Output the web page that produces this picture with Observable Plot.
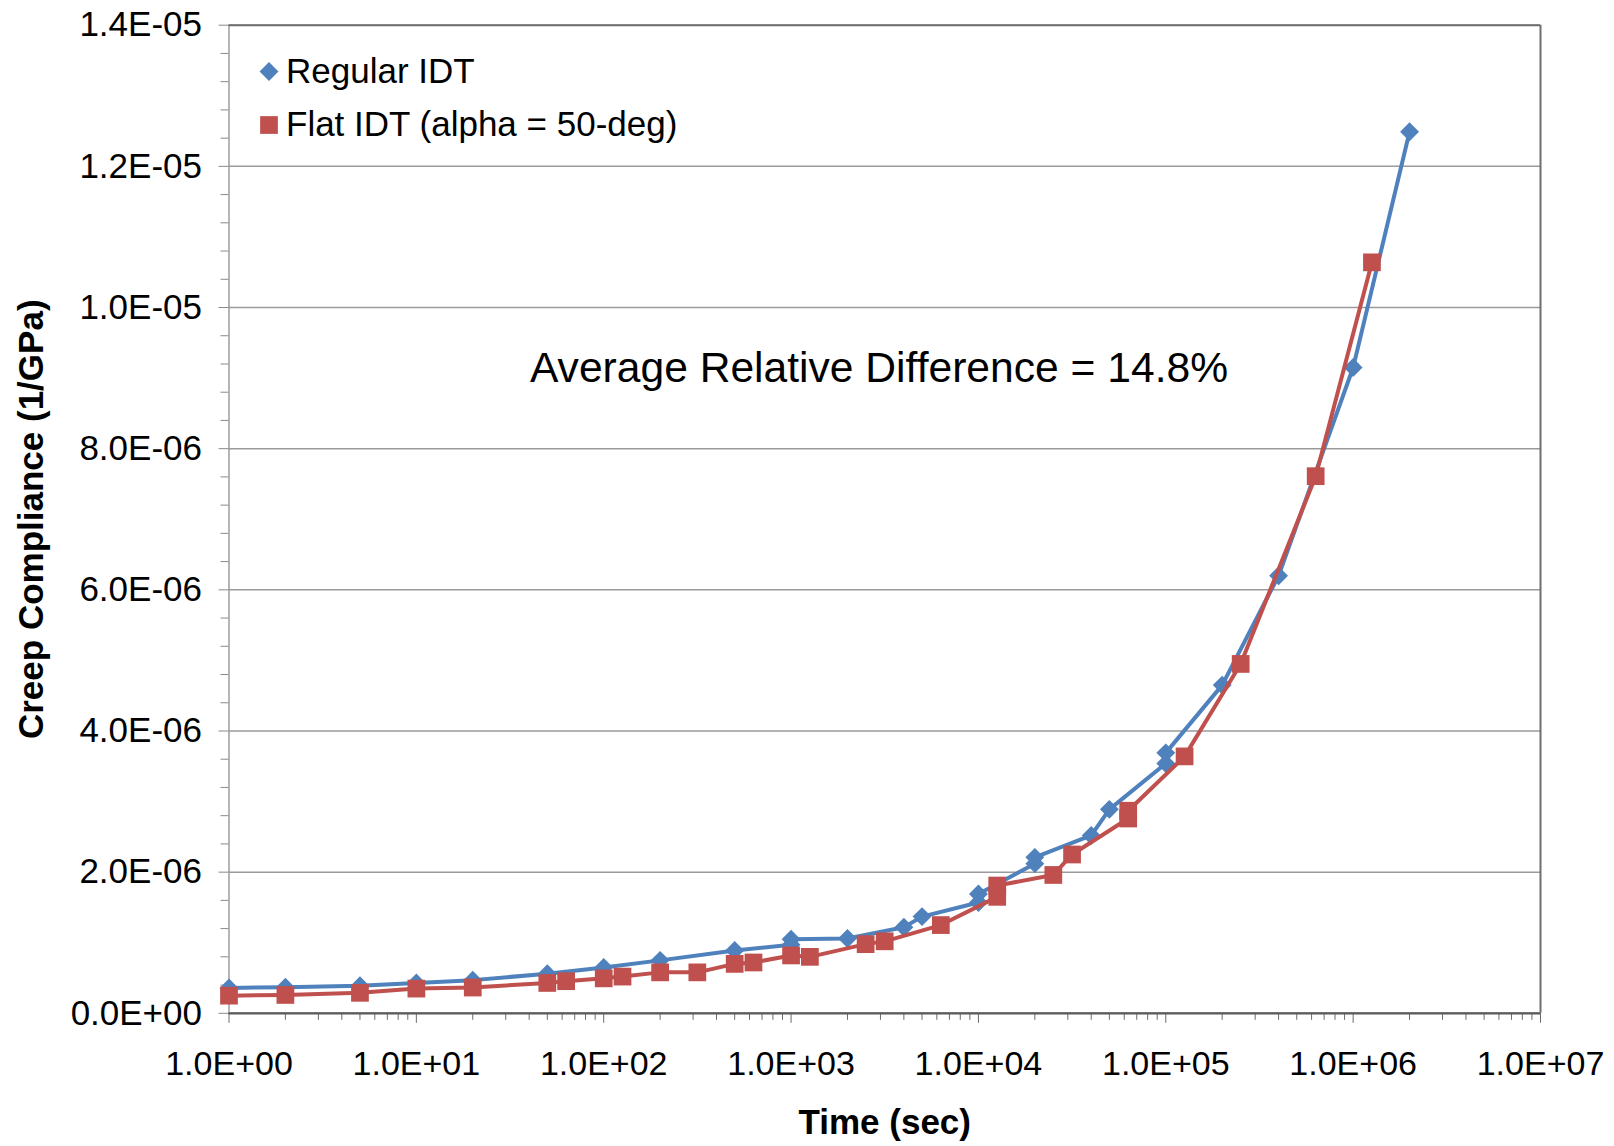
<!DOCTYPE html>
<html>
<head>
<meta charset="utf-8">
<script src="https://cdn.jsdelivr.net/npm/d3@7"></script>
<script src="https://cdn.jsdelivr.net/npm/@observablehq/plot@0.6"></script>
<style>
  html, body { margin: 0; padding: 0; background: white; overflow: hidden; }
  #chart svg { display: block; }
</style>
</head>
<body>
<div id="chart"></div>
<script>
// ---- data (time in sec, creep compliance in 1/GPa) ----
const regularTime = [1, 2, 5, 10, 20, 50, 100, 200, 500, 1000, 1000, 2000, 4000, 5000,
  10000, 10000, 20000, 20000, 40000, 50000, 100000, 100000, 200000, 400000, 1000000, 2000000];
const regularValue = [0.36e-6, 0.37e-6, 0.39e-6, 0.43e-6, 0.47e-6, 0.56e-6, 0.65e-6, 0.75e-6, 0.89e-6,
  0.97e-6, 1.05e-6, 1.06e-6, 1.22e-6, 1.37e-6, 1.57e-6, 1.69e-6, 2.12e-6, 2.21e-6, 2.52e-6, 2.89e-6,
  3.54e-6, 3.69e-6, 4.65e-6, 6.20e-6, 9.15e-6, 12.49e-6];

const flatTime = [1, 2, 5, 10, 20, 50, 63, 100, 126, 200, 316, 500, 630, 1000, 1260, 2500, 3160, 6300,
  12600, 12600, 25100, 31600, 63000, 63000, 126000, 251000, 631000, 1260000];
const flatValue = [0.25e-6, 0.26e-6, 0.29e-6, 0.35e-6, 0.365e-6, 0.43e-6, 0.455e-6, 0.495e-6, 0.52e-6,
  0.58e-6, 0.58e-6, 0.70e-6, 0.72e-6, 0.82e-6, 0.80e-6, 0.98e-6, 1.02e-6, 1.25e-6, 1.65e-6, 1.81e-6,
  1.96e-6, 2.25e-6, 2.76e-6, 2.87e-6, 3.64e-6, 4.95e-6, 7.61e-6, 10.64e-6];

const seriesNames = ["Regular IDT", "Flat IDT (alpha = 50-deg)"];
const xTicks = [1, 10, 100, 1000, 10000, 100000, 1000000, 10000000];
const yTicks = [0, 2e-6, 4e-6, 6e-6, 8e-6, 1e-5, 1.2e-5, 1.4e-5];
const xTitle = "Time (sec)";
const yTitle = "Creep Compliance (1/GPa)";
const annotationText = "Average Relative Difference = 14.8%";
const annotationAt = [2946, 9.14e-6];

// ---- build tables ----
const regular = regularTime.map((t, i) => ({t, v: regularValue[i]}));
const flat = flatTime.map((t, i) => ({t, v: flatValue[i]}));
const xMinor = [];
for (let d = 0; d < 7; d++) for (let k = 2; k <= 9; k++) xMinor.push(k * Math.pow(10, d));
const yMinor = d3.range(1, 35).filter(i => i % 5 !== 0).map(i => i * 4e-7);

const fmtE = d => {
  const [m, e] = d.toExponential(1).split("e");
  return `${m}E${e[0]}${e.slice(1).padStart(2, "0")}`;
};

const BLUE = "#4F81BD", RED = "#C0504D";
const FONT = "'Liberation Sans', Arial, sans-serif";

const chart = Plot.plot({
  width: 1614,
  height: 1146,
  marginLeft: 228.5,
  marginRight: 74,
  marginTop: 24.7,
  marginBottom: 133.2,
  x: {type: "log", domain: [1, 1e7]},
  y: {domain: [0, 1.4e-5]},
  style: {fontFamily: FONT, fontSize: "34px", background: "white", color: "black", overflow: "visible"},
  marks: [
    Plot.gridY({ticks: yTicks, stroke: "#9a9a9a", strokeOpacity: 1, strokeWidth: 1.5}),
    Plot.ruleX([1], {stroke: "#9c9c9c", strokeWidth: 1.5}),
    Plot.ruleX([1e7], {stroke: "#6e6e6e", strokeWidth: 2}),
    Plot.ruleY([1.4e-5], {stroke: "#6e6e6e", strokeWidth: 2}),
    // y axis
    Plot.axisY({ticks: yMinor, tickSize: 8, tickFormat: () => "", stroke: "#8a8a8a", strokeOpacity: 1, label: null}),
    Plot.axisY({ticks: yTicks, tickSize: 10, tickPadding: 17, tickFormat: fmtE, stroke: "#8a8a8a",
      strokeOpacity: 1, fontSize: 35, label: null}),
    // x axis
    Plot.axisX({ticks: xMinor, tickSize: 7, tickFormat: () => "", stroke: "#6a6a6a", strokeOpacity: 1, label: null}),
    Plot.axisX({ticks: xTicks, tickSize: 10, tickPadding: 28, tickFormat: fmtE, stroke: "#6a6a6a",
      strokeOpacity: 1, fontSize: 34, label: null}),
    Plot.ruleY([0], {stroke: "#5a5a5a", strokeWidth: 2.2}),
    // series
    Plot.line(regular, {x: "t", y: "v", stroke: BLUE, strokeWidth: 4}),
    Plot.dot(regular, {x: "t", y: "v", symbol: "diamond2", r: 8.5, fill: BLUE, stroke: "none"}),
    Plot.line(flat, {x: "t", y: "v", stroke: RED, strokeWidth: 4}),
    Plot.dot(flat, {x: "t", y: "v", symbol: "square", r: 10, fill: RED, stroke: "none"}),
    // annotation
    Plot.text([annotationText], {x: () => annotationAt[0], y: () => annotationAt[1], text: d => d,
      fontSize: 42.6, textAnchor: "middle", lineAnchor: "middle", fill: "black"}),
    // legend
    Plot.dot([seriesNames[0]], {frameAnchor: "top-left", dx: 40, dy: 46.3, symbol: "diamond2", r: 8.5, fill: BLUE, stroke: "none"}),
    Plot.dot([seriesNames[1]], {frameAnchor: "top-left", dx: 40, dy: 99.8, symbol: "square", r: 10, fill: RED, stroke: "none"}),
    Plot.text([seriesNames[0]], {frameAnchor: "top-left", dx: 57, dy: 46.3, text: d => d, textAnchor: "start",
      lineAnchor: "middle", fontSize: 35, fill: "black"}),
    Plot.text([seriesNames[1]], {frameAnchor: "top-left", dx: 57, dy: 99.8, text: d => d, textAnchor: "start",
      lineAnchor: "middle", fontSize: 35, fill: "black"}),
    // axis titles
    Plot.text([xTitle], {frameAnchor: "bottom", dy: 109, text: d => d, fontSize: 35, fontWeight: "bold",
      textAnchor: "middle", lineAnchor: "middle", fill: "black"}),
    Plot.text([yTitle], {frameAnchor: "left", dx: -197.5, rotate: -90, text: d => d, fontSize: 35,
      fontWeight: "bold", textAnchor: "middle", lineAnchor: "middle", fill: "black"})
  ]
});
document.getElementById("chart").appendChild(chart);
</script>
</body>
</html>
